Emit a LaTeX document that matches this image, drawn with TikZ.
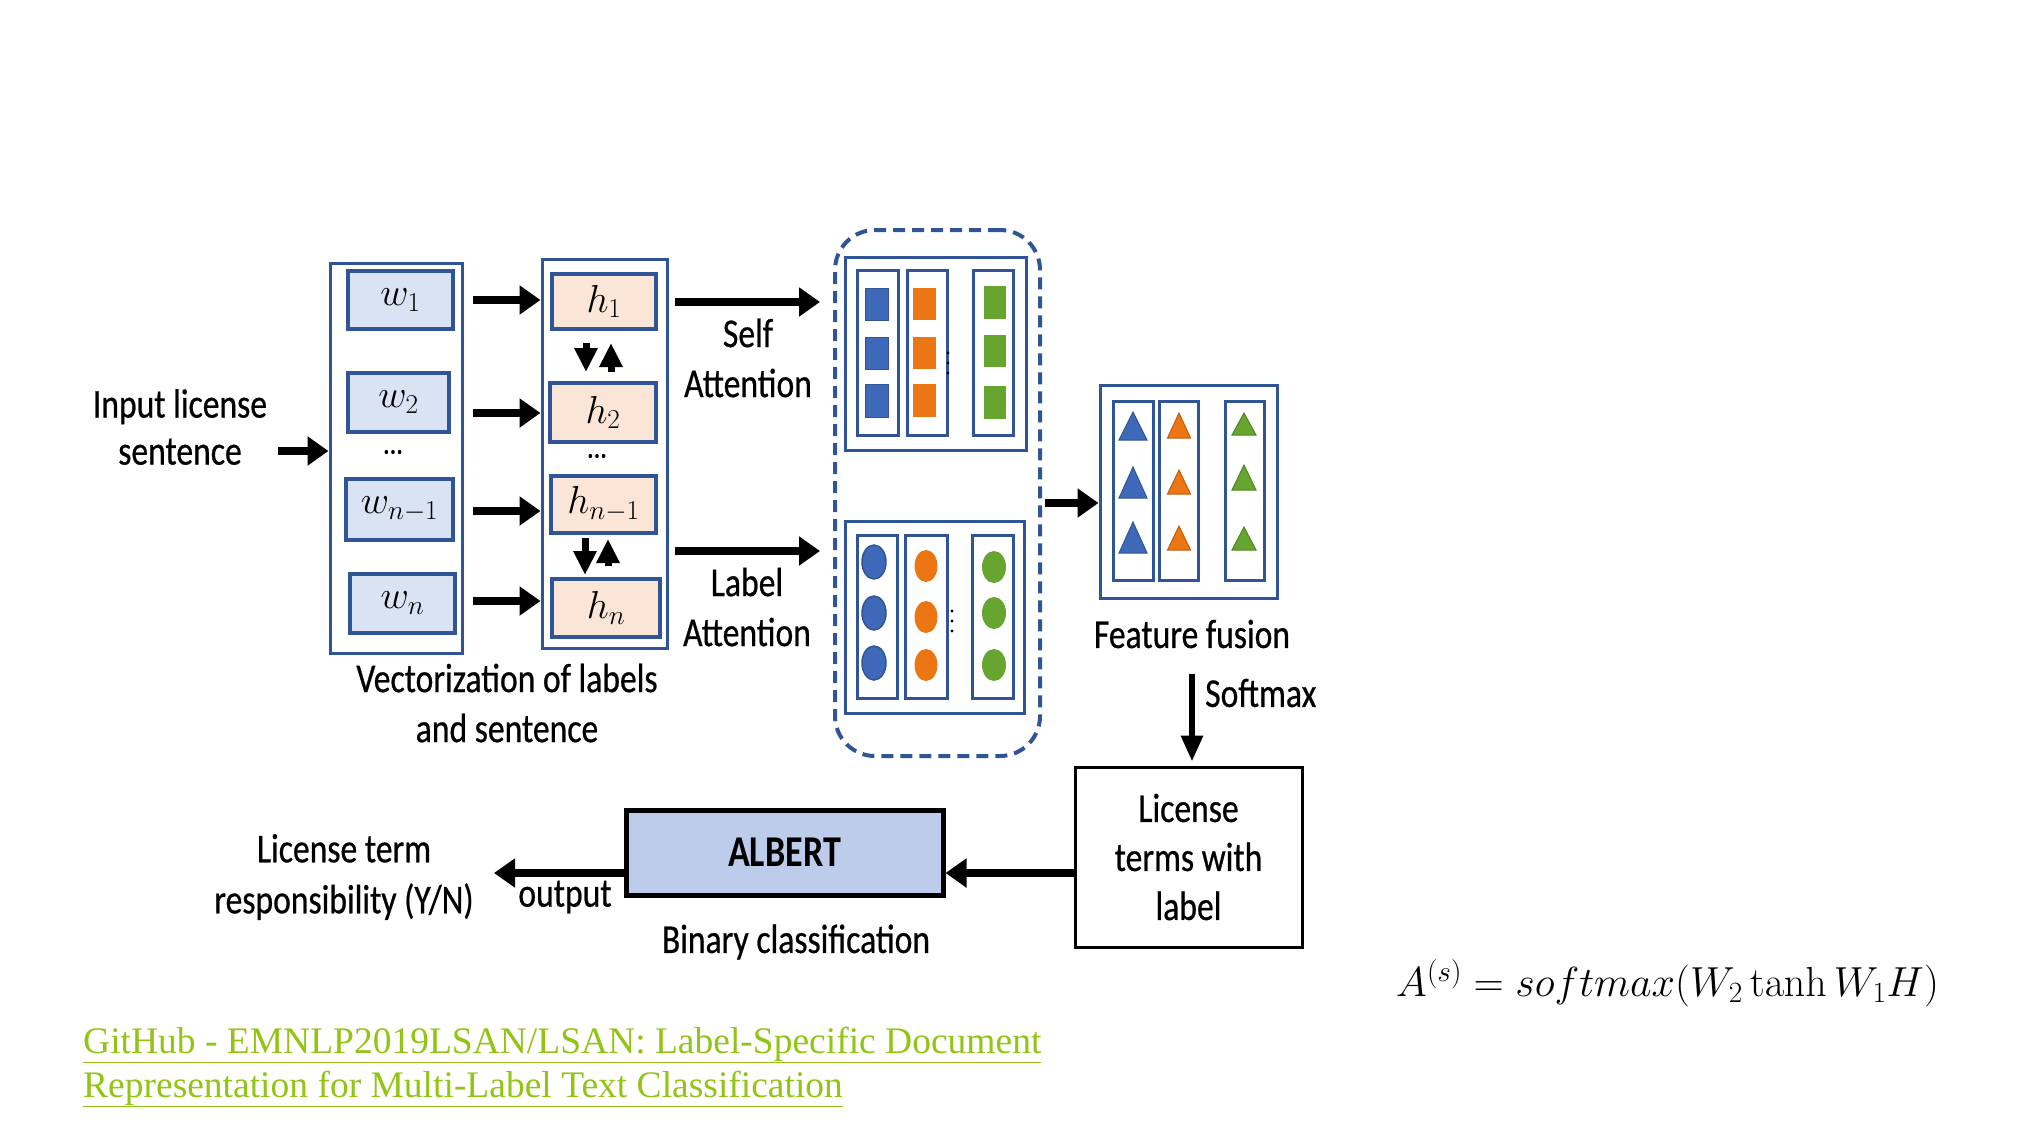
\documentclass[tikz,border=0pt]{standalone}
\usepackage{fix-cm}
\usepackage[no-math]{fontspec}
\setmainfont{Carlito}[FakeStretch=0.82, UprightFeatures={FakeBold=0.6}]
\newfontfamily\linkfont{Liberation Serif}
\usetikzlibrary{arrows.meta,calc}
\definecolor{dblue}{RGB}{47,85,151}
\definecolor{lblue}{RGB}{218,227,243}
\definecolor{peach}{RGB}{251,229,214}
\definecolor{sqblue}{RGB}{62,105,185}
\definecolor{sqorange}{RGB}{237,118,20}
\definecolor{sqgreen}{RGB}{102,165,48}
\definecolor{albfill}{RGB}{190,204,235}
\definecolor{linkgreen}{RGB}{146,196,20}
\newcommand\mytri[5]{\filldraw[fill=#5,draw=#5!80!black,line width=1pt] (#1-#4,#3) -- (#1,#2) -- (#1+#4,#3) -- cycle;}
\newcommand\mydots[2]{\fill[black] (#1,#2-10) circle (1.7pt) (#1,#2) circle (1.7pt) (#1,#2+10) circle (1.7pt);}
\begin{document}
\begin{tikzpicture}[x=1pt,y=-1pt,
  lab/.style={font=\fontsize{41}{50}\selectfont, align=center, inner sep=0pt},
  mth/.style={font=\fontsize{39}{42}\selectfont, inner sep=0pt},
  colbox/.style={draw=dblue, line width=3pt, inner sep=0pt},
  wbox/.style={draw=dblue, fill=lblue, line width=4pt, inner sep=0pt},
  hbox/.style={draw=dblue, fill=peach, line width=4pt, inner sep=0pt},
  bigarrow/.style={line width=8pt, -{Triangle[length=21pt,width=28pt]}},
  smallarrow/.style={line width=7pt, -{Triangle[length=24pt,width=22pt]}},
  softarrow/.style={line width=6pt, -{Triangle[length=26pt,width=21pt]}},
]
\useasboundingbox (0,0) rectangle (2034,1130);

% ---- word column ----
\node[colbox, minimum width=132pt, minimum height=390pt] (wcol) at (396,458) {};
\node[wbox, minimum width=105pt, minimum height=58pt] (w1) at (400.5,300) {};
\node[wbox, minimum width=101pt, minimum height=59pt] (w2) at (398.5,402.5) {};
\node[wbox, minimum width=107pt, minimum height=61pt] (wn1) at (399.5,509.5) {};
\node[wbox, minimum width=105pt, minimum height=59pt] (wn) at (402.5,603.5) {};
\node[mth] (w1t) at (w1) {$w_1$};
\node[mth] (w2t) at (w2) {$w_2$};
\node[mth] (wn1t) at (wn1) {$w_{n-1}$};
\node[mth] (wnt) at (wn) {$w_n$};
\node[font=\fontsize{32}{34}\selectfont, inner sep=0pt] (wdots) at (393,452) {...};

% ---- hidden column ----
\node[colbox, minimum width=125pt, minimum height=389pt] (hcol) at (604.5,453.5) {};
\node[hbox, minimum width=104pt, minimum height=55pt] (h1) at (604,301.5) {};
\node[hbox, minimum width=106pt, minimum height=59pt] (h2) at (603,412.5) {};
\node[hbox, minimum width=105pt, minimum height=57pt] (hn1) at (603.5,504.5) {};
\node[hbox, minimum width=108pt, minimum height=58pt] (hn) at (606,608) {};
\node[mth] (h1t) at (h1) {$h_1$};
\node[mth] (h2t) at (h2) {$h_2$};
\node[mth] (hn1t) at (hn1) {$h_{n-1}$};
\node[mth] (hnt) at (hn) {$h_n$};
\node[font=\fontsize{32}{34}\selectfont, inner sep=0pt] (hdots) at (597,456) {...};

% ---- input ----
\node[lab, font=\fontsize{41}{47}\selectfont] (inp) at (180,427) {Input license\\sentence};
\coordinate (inS) at (278,451);
\draw[bigarrow] (inS) -- (wcol.west |- inS);

% row arrows
\coordinate (r1) at (473,300);
\coordinate (r2) at (473,413);
\coordinate (r3) at (473,511);
\coordinate (r4) at (473,601);
\draw[bigarrow] (r1) -- (hcol.west |- r1);
\draw[bigarrow] (r2) -- (hcol.west |- r2);
\draw[bigarrow] (r3) -- (hcol.west |- r3);
\draw[bigarrow] (r4) -- (hcol.west |- r4);

% bidirectional arrows
\draw[smallarrow] ([xshift=-18pt,yshift=-12pt]h1.south) -- ([xshift=-17pt,yshift=9pt]h2.north);
\draw[smallarrow] ([xshift=8pt,yshift=9pt]h2.north) -- ([xshift=7pt,yshift=-12pt]h1.south);
\draw[smallarrow] ([xshift=-18.5pt,yshift=-3pt]hn1.south) -- ([xshift=-21pt,yshift=2pt]hn.north);
\draw[smallarrow] ([xshift=2pt,yshift=11pt]hn.north) -- ([xshift=4.5pt,yshift=-4pt]hn1.south);

\node[lab] (vec) at (507,703) {Vectorization of labels\\and sentence};

% ---- attention block ----
\node[draw=dblue, line width=4pt, dash pattern=on 12pt off 7pt, rounded corners=40pt,
      minimum width=205pt, minimum height=526pt, inner sep=0pt] (dash) at (937.5,493) {};
\node[colbox, minimum width=181pt, minimum height=193pt] (top) at (935.5,353.5) {};
\node[colbox, minimum width=41pt, minimum height=165pt] (tc1) at (877.5,352.5) {};
\node[colbox, minimum width=40pt, minimum height=165pt] (tc2) at (927,352.5) {};
\node[colbox, minimum width=40pt, minimum height=165pt] (tc3) at (993,352.5) {};
\foreach \ya/\yb in {288/320, 337/369, 384/417} {
  \filldraw[fill=sqblue, draw=sqblue!80!black, line width=1pt] (865,\ya) rectangle (888,\yb);
  \fill[sqorange] (913,\ya) rectangle (936,\yb);
}
\foreach \ya/\yb in {286/319, 335/367, 386/419} {
  \fill[sqgreen] (984,\ya) rectangle (1006,\yb);
}
\mydots{948}{363}

\node[colbox, minimum width=179pt, minimum height=192pt] (bot) at (934.5,617) {};
\node[colbox, minimum width=40pt, minimum height=163pt] (bc1) at (877,616.5) {};
\node[colbox, minimum width=42pt, minimum height=163pt] (bc2) at (926,616.5) {};
\node[colbox, minimum width=41pt, minimum height=163pt] (bc3) at (992.5,616.5) {};
\foreach \ya/\yb in {562/566, 613/617, 663/665} {
  \filldraw[fill=sqblue, draw=dblue, line width=1.5pt] (874,\ya) ellipse [x radius=12pt, y radius=17pt];
  \fill[sqorange] (926,\yb) ellipse [x radius=11.5pt, y radius=16pt];
}
\foreach \yy in {567,613,665} {
  \fill[sqgreen] (994,\yy) ellipse [x radius=12pt, y radius=16pt];
}
\mydots{952}{621}

\node[lab] (self) at (748,358) {Self\\Attention};
\node[lab] (latt) at (747,607) {Label\\Attention};
\coordinate (sa) at (675,302);
\coordinate (la) at (675,551);
\draw[bigarrow, shorten >=13pt] (sa) -- (dash.west |- sa);
\draw[bigarrow, shorten >=13pt] (la) -- (dash.west |- la);

% ---- feature fusion ----
\node[colbox, minimum width=177pt, minimum height=213pt] (ff) at (1188.5,491.5) {};
\node[colbox, minimum width=40pt, minimum height=179pt] (fc1) at (1133,490.5) {};
\node[colbox, minimum width=39pt, minimum height=179pt] (fc2) at (1178.5,490.5) {};
\node[colbox, minimum width=39pt, minimum height=179pt] (fc3) at (1244.5,490.5) {};
\mytri{1133}{412}{440}{14}{sqblue}
\mytri{1133}{467}{498}{14}{sqblue}
\mytri{1133}{522}{553}{14}{sqblue}
\mytri{1179}{413}{438}{11.5}{sqorange}
\mytri{1179}{470}{494}{11.5}{sqorange}
\mytri{1179}{526}{550}{11.5}{sqorange}
\mytri{1244}{413}{435}{12}{sqgreen}
\mytri{1244}{465}{490}{12}{sqgreen}
\mytri{1244}{527}{550}{12}{sqgreen}
\coordinate (fa) at (1045,503);
\draw[bigarrow] (fa) -- (ff.west |- fa);
\node[lab] (ffl) at (1192,634) {Feature fusion};

% ---- softmax and license box ----
\node[draw=black, line width=3pt, minimum width=227pt, minimum height=180pt, inner sep=0pt,
      font=\fontsize{41}{49}\selectfont, align=center] (lic) at (1188.5,857) {License\\terms with\\label};
\coordinate (sm) at (1192,674);
\draw[softarrow, shorten >=4pt] (sm) -- (sm |- lic.north);
\node[lab, anchor=west] (smx) at (1205,693) {Softmax};

% ---- ALBERT ----
\node[draw=black, fill=albfill, line width=5pt, minimum width=317pt, minimum height=85pt, inner sep=0pt,
      font=\fontsize{44}{50}\selectfont\bfseries] (alb) at (784.5,852.5) {ALBERT};
\coordinate (lb) at (1075,873);
\draw[bigarrow] (lic.west |- lb) -- (alb.east |- lb);
\coordinate (oa) at (494,873);
\draw[bigarrow] (alb.west |- oa) -- (oa);
\node[lab] (outl) at (565,897) {output};
\node[lab, font=\fontsize{41}{51}\selectfont] (lt) at (344,877) {License term\\responsibility (Y/N)};
\node[lab] (bin) at (796,942) {Binary classification};

% ---- formula ----
\node[font=\fontsize{42}{46}\selectfont, anchor=west, inner sep=0pt] (eq) at (1396,983) {$A^{(s)} = softmax(W_2\tanh W_1H)$};

% ---- link ----
\node[font=\linkfont\fontsize{37.5}{44}\selectfont, text=linkgreen, anchor=base west, inner sep=0pt] (l1) at (83,1053) {\underline{GitHub - EMNLP2019LSAN/LSAN: Label-Specific Document}};
\node[font=\linkfont\fontsize{37.5}{44}\selectfont, text=linkgreen, anchor=base west, inner sep=0pt] (l2) at (83,1097) {\underline{Representation for Multi-Label Text Classification}};
\end{tikzpicture}
\end{document}
